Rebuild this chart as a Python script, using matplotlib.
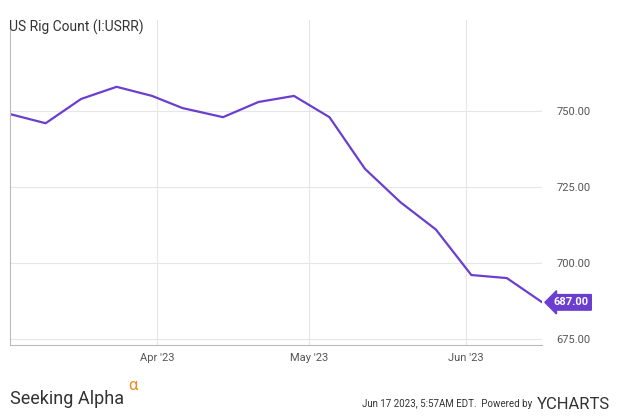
import matplotlib
matplotlib.use("Agg")
import matplotlib.pyplot as plt
import numpy as np

dates = ["2023-03-03","2023-03-10","2023-03-17","2023-03-24","2023-03-31","2023-04-06",
         "2023-04-14","2023-04-21","2023-04-28","2023-05-05","2023-05-12","2023-05-19",
         "2023-05-26","2023-06-02","2023-06-09","2023-06-16"]
values = [749, 746, 754, 758, 755, 751, 748, 753, 755, 748, 731, 720, 711, 696, 695, 687]
yticks = [675, 700, 725, 750]
xtick_dates = ["2023-04-01", "2023-05-01", "2023-06-01"]
xtick_labels = ["Apr '23", "May '23", "Jun '23"]

plt.rcParams['font.family'] = ['Roboto', 'DejaVu Sans']
color = "#6a3fd0"
x = np.array(dates, dtype="datetime64[D]")
fig = plt.figure(figsize=(6.35, 4.17), dpi=100)
ax = fig.add_axes([0.016, 0.173, 0.838, 0.779])
ax.plot(x, values, color=color, lw=1.6)
ax.set_xlim(x[0], x[-1])
ax.set_ylim(673, 780)
ax.yaxis.tick_right()
ax.set_yticks(yticks)
ax.set_yticklabels([f"{v:.2f}" for v in yticks], color="#555555", fontsize=8)
xt = np.array(xtick_dates, dtype="datetime64[D]")
ax.set_xticks(xt)
ax.set_xticklabels(xtick_labels, color="#555555", fontsize=8)
ax.tick_params(length=0, pad=6)
ax.tick_params(axis='y', pad=10)
ax.grid(True, color="#e6e6e6", lw=0.8)
for s in ["top", "right"]:
    ax.spines[s].set_visible(False)
for s in ["left", "bottom"]:
    ax.spines[s].set_color("#bbbbbb")
ax.annotate(f"{values[-1]:.2f}", xy=(x[-1], values[-1]), xytext=(8, 0),
            textcoords="offset points", va="center", ha="left", color="white",
            fontsize=8, fontweight="bold",
            bbox=dict(boxstyle="larrow,pad=0.25", fc=color, ec=color))
fig.text(0.014, 0.925, "US Rig Count (I:USRR)", fontsize=10, color="#333333")
fig.text(0.016, 0.03, "Seeking Alpha", fontsize=13, color="#333333")
fig.text(0.202, 0.065, "α", fontsize=12, color="#f08c1e")
fig.text(0.57, 0.025, "Jun 17 2023, 5:57AM EDT.  Powered by", fontsize=7, color="#333333")
fig.text(0.845, 0.02, "YCHARTS", fontsize=12, color="#333333")
fig.savefig("out.png", dpi=100)
